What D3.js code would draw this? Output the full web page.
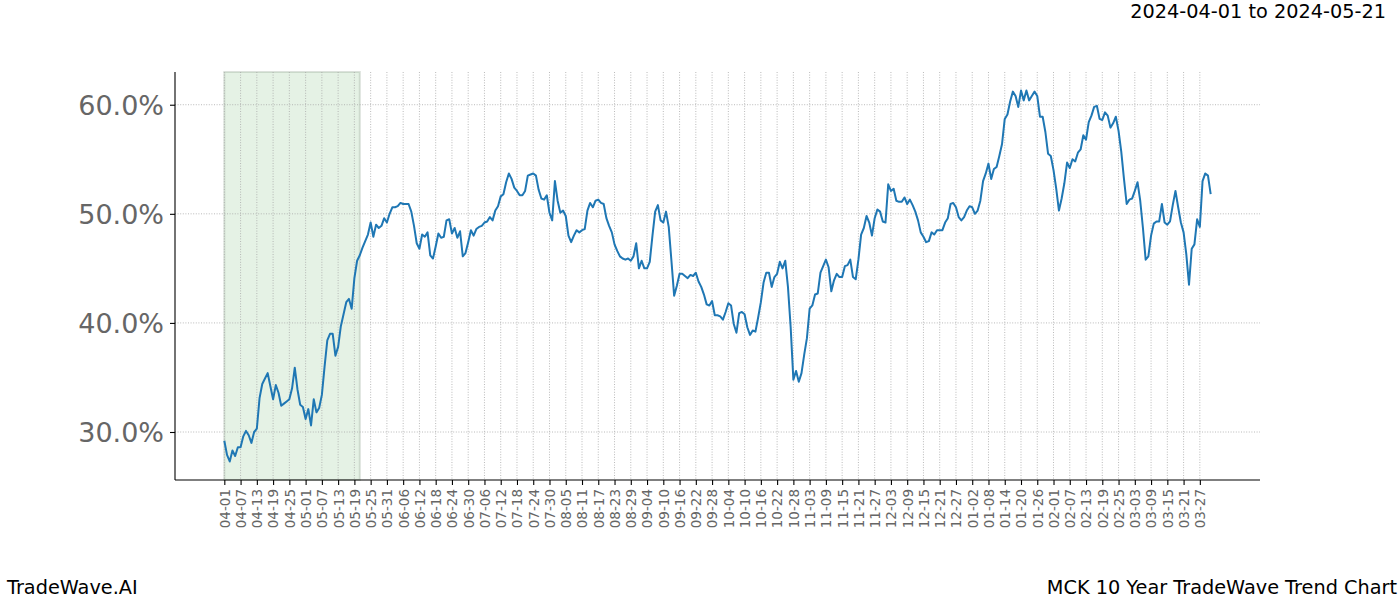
<!DOCTYPE html>
<html>
<head>
<meta charset="utf-8">
<script src="https://cdn.jsdelivr.net/npm/d3@7"></script>
<style>
    body { margin: 0; background: #fff; }
    svg { font-family: "DejaVu Sans", sans-serif; display: block; }
    .grid line { stroke: #a8a8a8; stroke-width: 0.8; stroke-dasharray: 1,1.6; }
    .axis path, .axis line { stroke: #000; stroke-width: 1.1; }
</style>
</head>
<body>
<svg width="1400" height="600"></svg>
<script>
// first and last day, highlighted window
let startDate = "2024-04-01",
    endDate = "2025-03-31",
    spanStart = "2024-04-01",
    spanEnd = "2024-05-21";

// trend value (%) for every calendar day from startDate, ten days per row
let trendValues = [
    29.2, 27.9, 27.3, 28.3, 27.8, 28.6, 28.6, 29.6, 30.1, 29.7,
    29.0, 30.0, 30.3, 33.1, 34.4, 34.9, 35.4, 34.2, 33.0, 34.3,
    33.6, 32.4, 32.6, 32.8, 33.0, 34.0, 35.9, 33.9, 32.5, 32.3,
    31.2, 32.1, 30.6, 33.0, 31.8, 32.2, 33.4, 36.0, 38.4, 39.0,
    39.0, 37.0, 37.8, 39.7, 40.8, 41.9, 42.2, 41.3, 44.1, 45.7,
    46.2, 46.9, 47.5, 48.1, 49.2, 47.9, 49.0, 48.7, 48.9, 49.6,
    49.2, 50.0, 50.6, 50.6, 50.7, 51.0, 50.9, 50.9, 50.9, 50.2,
    48.9, 47.3, 46.8, 48.1, 47.9, 48.3, 46.2, 45.9, 47.0, 48.2,
    47.8, 47.9, 49.4, 49.5, 48.2, 48.7, 47.8, 48.4, 46.1, 46.4,
    47.4, 48.5, 48.0, 48.6, 48.8, 48.9, 49.2, 49.3, 49.7, 49.4,
    50.3, 50.7, 51.6, 51.8, 52.9, 53.7, 53.2, 52.4, 52.1, 51.7,
    51.7, 52.1, 53.5, 53.6, 53.7, 53.5, 52.2, 51.4, 51.3, 51.7,
    50.1, 49.4, 53.0, 51.2, 50.1, 50.3, 49.8, 48.0, 47.4, 48.0,
    48.5, 48.3, 48.5, 48.6, 50.3, 51.0, 50.6, 51.2, 51.3, 51.0,
    50.9, 49.6, 48.9, 48.3, 47.2, 46.6, 46.1, 45.9, 45.8, 45.9,
    45.7, 46.1, 47.3, 45.0, 45.7, 45.0, 45.0, 45.6, 48.0, 50.2,
    50.8, 49.4, 49.2, 50.2, 48.8, 45.7, 42.5, 43.4, 44.5, 44.5,
    44.3, 44.1, 44.4, 44.3, 44.6, 43.8, 43.3, 42.6, 41.7, 41.6,
    42.0, 40.7, 40.7, 40.6, 40.3, 41.0, 41.8, 41.6, 39.9, 39.1,
    40.9, 41.0, 40.8, 39.6, 38.9, 39.3, 39.2, 40.5, 41.9, 43.7,
    44.6, 44.6, 43.3, 44.2, 44.5, 45.6, 45.0, 45.7, 43.3, 39.6,
    34.8, 35.6, 34.6, 35.4, 37.1, 38.6, 41.3, 41.6, 42.6, 42.7,
    44.6, 45.2, 45.8, 45.1, 42.9, 43.9, 44.5, 44.2, 44.2, 45.2,
    45.3, 45.8, 44.2, 44.0, 45.8, 48.1, 48.7, 49.8, 49.2, 48.0,
    49.6, 50.4, 50.2, 49.3, 49.2, 52.7, 52.1, 52.3, 51.2, 51.1,
    51.1, 51.5, 50.9, 51.3, 50.8, 50.2, 49.4, 48.3, 47.9, 47.4,
    47.5, 48.3, 48.1, 48.5, 48.5, 48.5, 49.2, 49.6, 50.9, 51.0,
    50.6, 49.7, 49.4, 49.7, 50.3, 50.7, 50.6, 50.0, 50.3, 51.2,
    53.0, 53.7, 54.6, 53.2, 54.1, 54.3, 55.3, 56.4, 58.7, 59.1,
    60.3, 61.2, 60.8, 59.8, 61.3, 60.4, 61.3, 60.4, 60.8, 61.2,
    60.8, 58.9, 58.9, 57.5, 55.5, 55.3, 54.0, 52.3, 50.3, 51.4,
    52.8, 54.7, 54.2, 55.0, 54.8, 55.6, 55.9, 57.2, 56.8, 58.4,
    59.0, 59.8, 59.9, 58.7, 58.6, 59.3, 59.0, 57.9, 58.3, 58.9,
    57.6, 55.7, 53.2, 50.9, 51.3, 51.4, 52.1, 52.9, 51.2, 48.7,
    45.8, 46.1, 48.0, 49.1, 49.3, 49.3, 50.9, 49.2, 49.0, 49.3,
    50.8, 52.1, 50.6, 49.2, 48.3, 46.3, 43.5, 46.8, 47.2, 49.5,
    48.8, 53.0, 53.7, 53.5, 51.8
];

let yTicks = [30, 40, 50, 60];
let tickStep = 6; // days between x tick labels
let titleText = "2024-04-01 to 2024-05-21",
    leftFooter = "TradeWave.AI",
    rightFooter = "MCK 10 Year TradeWave Trend Chart";

let parseDate = d3.timeParse("%Y-%m-%d");

let first = parseDate(startDate),
    last = parseDate(endDate);

let days = d3.timeDay.range(first, d3.timeDay.offset(last, 1));

let data = days.map(function (d, i) {
    return {date: d, value: trendValues[i]};
}).filter(function (d) {
    return d.value !== undefined;
});

let svg = d3.select("svg");
let plot = {left: 175, right: 1260, top: 72, bottom: 480};

// 5% padding on each side, as the original plot has
let padDays = d3.timeDay.count(first, last) * 0.05;
let x = d3.scaleTime()
    .domain([new Date(+first - padDays * 864e5), new Date(+last + padDays * 864e5)])
    .range([plot.left, plot.right]);

let yMin = d3.min(data, function (d) { return d.value; }),
    yMax = d3.max(data, function (d) { return d.value; }),
    yPad = (yMax - yMin) * 0.05;
let y = d3.scaleLinear()
    .domain([yMin - yPad, yMax + yPad])
    .range([plot.bottom, plot.top]);

let xTicks = d3.range(0, d3.timeDay.count(first, last) + 1, tickStep).map(function (n) {
    return d3.timeDay.offset(first, n);
});

// highlighted window
let sx0 = x(parseDate(spanStart)), sx1 = x(parseDate(spanEnd));
svg.append("rect")
    .attr("x", sx0).attr("y", plot.top)
    .attr("width", sx1 - sx0).attr("height", plot.bottom - plot.top)
    .attr("fill", "green").attr("fill-opacity", 0.1)
    .attr("stroke", "#8aa08a").attr("stroke-opacity", 0.3).attr("stroke-width", 2);

// grid
let grid = svg.append("g").attr("class", "grid");
grid.selectAll(".gx").data(xTicks).enter().append("line")
    .attr("x1", function (d) { return x(d); }).attr("x2", function (d) { return x(d); })
    .attr("y1", plot.top).attr("y2", plot.bottom);
grid.selectAll(".gy").data(yTicks).enter().append("line")
    .attr("x1", plot.left).attr("x2", plot.right)
    .attr("y1", function (d) { return y(d); }).attr("y2", function (d) { return y(d); });

// trend line
let line = d3.line()
    .x(function (d) { return x(d.date); })
    .y(function (d) { return y(d.value); });

svg.append("path")
    .datum(data)
    .attr("d", line)
    .attr("fill", "none")
    .attr("stroke", "#1f77b4")
    .attr("stroke-width", 2)
    .attr("stroke-linejoin", "round");

// axes
let xAxis = svg.append("g")
    .attr("class", "axis")
    .attr("transform", "translate(0," + plot.bottom + ")")
    .call(d3.axisBottom(x).tickValues(xTicks).tickFormat(d3.timeFormat("%m-%d")).tickSize(5).tickSizeOuter(0));
xAxis.select(".domain").attr("d", "M" + plot.left + ",0H" + plot.right);
xAxis.selectAll("text")
    .attr("transform", "rotate(-90)")
    .attr("x", -9).attr("y", 0).attr("dy", "0.36em")
    .style("text-anchor", "end")
    .style("font-size", "13.5px")
    .style("fill", "#666")
    .style("font-family", "DejaVu Sans");

let yAxis = svg.append("g")
    .attr("class", "axis")
    .attr("transform", "translate(" + plot.left + ",0)")
    .call(d3.axisLeft(y).tickValues(yTicks).tickFormat(function (d) { return d.toFixed(1) + "%"; }).tickSize(5).tickSizeOuter(0));
yAxis.select(".domain").attr("d", "M0," + plot.top + "V" + plot.bottom);
yAxis.selectAll("text")
    .attr("x", -11)
    .attr("dy", "0.36em")
    .style("font-size", "27px")
    .style("fill", "#666")
    .style("font-family", "DejaVu Sans");

// texts
svg.append("text")
    .attr("x", 1386).attr("y", 18)
    .attr("text-anchor", "end")
    .style("font-size", "19.3px")
    .text(titleText);

svg.append("text")
    .attr("x", 7).attr("y", 594)
    .style("font-size", "19.3px")
    .text(leftFooter);

svg.append("text")
    .attr("x", 1397).attr("y", 594)
    .attr("text-anchor", "end")
    .style("font-size", "19.3px")
    .text(rightFooter);
</script>
</body>
</html>
